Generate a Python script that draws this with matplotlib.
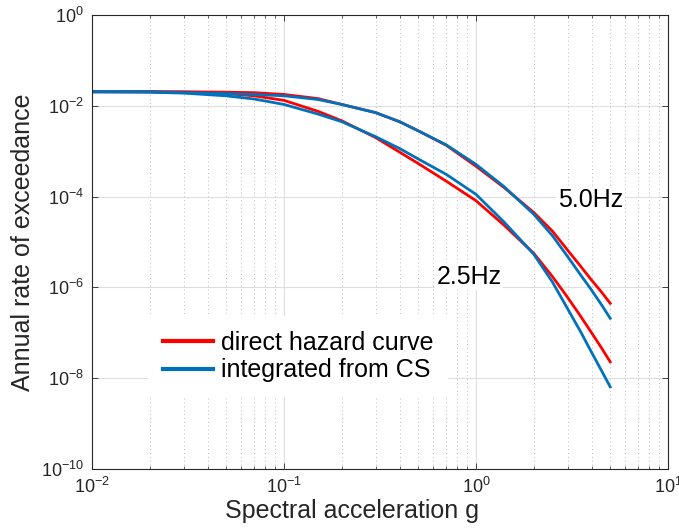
import numpy as np
import matplotlib
matplotlib.use("Agg")
import matplotlib.pyplot as plt
from matplotlib.ticker import LogLocator, NullLocator, NullFormatter, LogFormatterSciNotation

plt.rcParams['font.family'] = ['Liberation Sans', 'DejaVu Sans']
plt.rcParams['mathtext.fontset'] = 'custom'
plt.rcParams['mathtext.rm'] = 'Liberation Sans'

# Spectral acceleration (g) where the curves were read
sa = [0.01, 0.02, 0.03, 0.05, 0.07, 0.1, 0.15, 0.2, 0.3, 0.4, 0.5, 0.7,
      1.0, 1.4, 2.0, 2.5, 3.0, 3.5, 4.0, 4.5, 5.0]

# log10 of annual rate of exceedance
direct_5hz = [-1.69, -1.69, -1.69, -1.70, -1.71, -1.75, -1.84, -1.97, -2.15, -2.35,
              -2.55, -2.87, -3.33, -3.80, -4.35, -4.76, -5.18, -5.53, -5.84, -6.10, -6.35]
cs_5hz = [-1.69, -1.69, -1.71, -1.73, -1.75, -1.78, -1.86, -1.97, -2.15, -2.35,
          -2.55, -2.86, -3.29, -3.78, -4.39, -4.86, -5.32, -5.72, -6.06, -6.38, -6.68]
direct_25hz = [-1.69, -1.69, -1.70, -1.73, -1.78, -1.88, -2.12, -2.33, -2.70, -3.02,
               -3.27, -3.66, -4.09, -4.63, -5.25, -5.76, -6.22, -6.63, -7.00, -7.33, -7.64]
cs_25hz = [-1.69, -1.70, -1.72, -1.78, -1.85, -1.97, -2.18, -2.35, -2.68, -2.94,
           -3.17, -3.51, -3.95, -4.56, -5.27, -5.88, -6.47, -6.97, -7.43, -7.83, -8.19]

labels = ["direct hazard curve", "integrated from CS"]
freq_labels = ["5.0Hz", "2.5Hz"]

RED = (1.0, 0.0, 0.0)
BLUE = (0.0, 0.447, 0.741)
DARK = '#262626'

fig = plt.figure(figsize=(6.79, 5.29), dpi=100)
ax = fig.add_axes([0.1355, 0.1134, 0.8483, 0.8582])

x = np.array(sa)
l1, = ax.loglog(x, 10 ** np.array(direct_5hz), color=RED, lw=2.0, label=labels[0])
ax.loglog(x, 10 ** np.array(direct_25hz), color=RED, lw=2.0)
l2, = ax.loglog(x, 10 ** np.array(cs_5hz), color=BLUE, lw=2.0, label=labels[1])
ax.loglog(x, 10 ** np.array(cs_25hz), color=BLUE, lw=2.0)

ax.set_xlim(1e-2, 1e1)
ax.set_ylim(1e-10, 1e0)

ax.xaxis.set_major_locator(LogLocator(base=10, numticks=10))
ax.xaxis.set_minor_locator(LogLocator(base=10, subs=np.arange(2, 10), numticks=20))
ax.xaxis.set_minor_formatter(NullFormatter())
ax.yaxis.set_major_locator(LogLocator(base=100, numticks=10))
ax.yaxis.set_minor_locator(NullLocator())
ax.xaxis.set_major_formatter(LogFormatterSciNotation())
ax.yaxis.set_major_formatter(LogFormatterSciNotation())

ax.grid(True, which='major', color='#dedede', lw=0.8, ls='-')
ax.grid(True, which='minor', axis='x', color='#bdbdbd', lw=0.7, ls=(0, (1, 3)))
ax.set_axisbelow(True)

ax.tick_params(which='both', direction='in', top=True, right=True, colors=DARK,
               labelsize=13)
ax.tick_params(which='major', length=4, width=0.6, pad=6)
ax.tick_params(which='minor', length=2.5, width=0.5)
for s in ax.spines.values():
    s.set_color(DARK)
    s.set_linewidth(0.8)

ax.set_xlabel("Spectral acceleration g", fontsize=18, color=DARK)
ax.xaxis.set_label_coords(0.451, -0.066)
ax.set_ylabel("Annual rate of exceedance", fontsize=18, color=DARK, labelpad=4)

ax.text(2.67, 10 ** -4.07, freq_labels[0], fontsize=18, ha='left', va='center',
        bbox=dict(facecolor='white', edgecolor='none', pad=1))
ax.text(0.624, 10 ** -5.76, freq_labels[1], fontsize=18, ha='left', va='center',
        bbox=dict(facecolor='white', edgecolor='none', pad=1))

leg = ax.legend(handles=[l1, l2], loc='center left', bbox_to_anchor=(0.076, 0.248),
                fontsize=18, frameon=True, fancybox=False, edgecolor='none',
                facecolor='white', framealpha=1, handlelength=2.0,
                handletextpad=0.3, labelspacing=0.15, borderpad=0.6)
for line in leg.get_lines():
    line.set_linewidth(3.0)

fig.savefig("out.png", dpi=100)
